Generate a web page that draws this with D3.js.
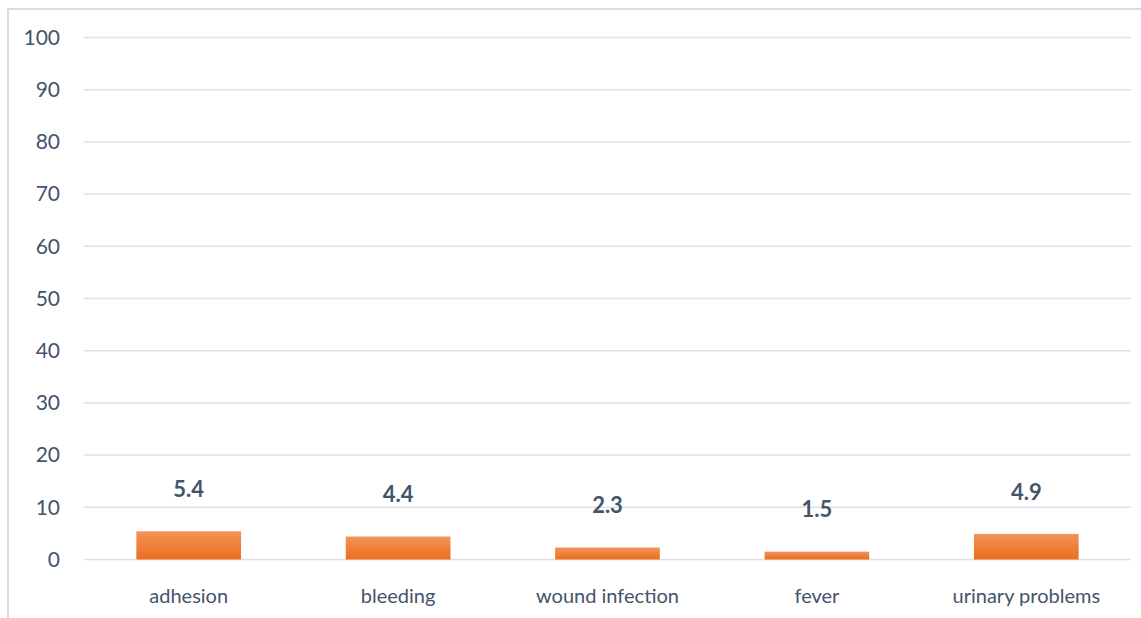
<!DOCTYPE html>
<html>
<head>
<meta charset="utf-8">
<script src="https://cdn.jsdelivr.net/npm/d3@7"></script>
<style>
  html, body { margin: 0; padding: 0; background: #fff; }
  svg, svg text { font-family: Lato, "Noto Sans", sans-serif; }
  svg { display: block; }
</style>
</head>
<body>
<div id="chart"></div>
<script>
// complications, percent
var categories = ['adhesion', 'bleeding', 'wound infection', 'fever', 'urinary problems'];
var values = [5.4, 4.4, 2.3, 1.5, 4.9];
var yTicks = [0, 10, 20, 30, 40, 50, 60, 70, 80, 90, 100];

var fullWidth = 1141;
var fullHeight = 618;
var margin = {top: 37.5, right: 10, bottom: 58.5, left: 84};
var width = 1131 - margin.left;
var height = 559.5 - margin.top;
var textColor = '#44546A';

var svg = d3.select('#chart').append('svg')
  .attr('width', fullWidth)
  .attr('height', fullHeight);

// chart frame (only left and top edges are in view)
svg.append('rect')
  .attr('x', 8).attr('y', 9)
  .attr('width', fullWidth + 20).attr('height', fullHeight + 20)
  .attr('fill', 'none')
  .attr('stroke', '#D9DDE3')
  .attr('stroke-width', 2);

var defs = svg.append('defs');
var grad = defs.append('linearGradient')
  .attr('id', 'barFill')
  .attr('x1', 0).attr('y1', 0).attr('x2', 0).attr('y2', 1);
grad.append('stop').attr('offset', '0%').attr('stop-color', '#F39358');
grad.append('stop').attr('offset', '100%').attr('stop-color', '#EB6E1E');

var g = svg.append('g')
  .attr('transform', 'translate(' + margin.left + ',' + margin.top + ')');

var x = d3.scaleBand().domain(categories).range([0, width]).paddingInner(0).paddingOuter(0);
var y = d3.scaleLinear().domain([0, 100]).range([height, 0]);

// gridlines
g.append('g').classed('grid', true)
  .selectAll('line')
  .data(yTicks)
  .enter()
  .append('line')
  .attr('x1', 0)
  .attr('x2', width)
  .attr('y1', function(d) { return y(d); })
  .attr('y2', function(d) { return y(d); })
  .attr('stroke', '#DDE1E7')
  .attr('stroke-width', 1.5);

// y axis labels
var yAxis = d3.axisLeft(y).tickValues(yTicks).tickSize(0).tickPadding(24);
var yG = g.append('g').classed('y axis', true).call(yAxis).attr('font-family', null);
yG.select('.domain').remove();
yG.selectAll('text')
  .attr('fill', textColor)
  .style('font-size', '21px');

// x axis labels
var xAxis = d3.axisBottom(x).tickSize(0).tickPadding(29);
var xG = g.append('g').classed('x axis', true)
  .attr('transform', 'translate(0,' + height + ')')
  .call(xAxis)
  .attr('font-family', null);
xG.select('.domain').remove();
xG.selectAll('text')
  .attr('fill', textColor)
  .style('font-size', '20px');

// bars
var barWidth = x.bandwidth() * 0.5;
g.append('g').classed('bar-holder', true)
  .selectAll('rect.bar')
  .data(values)
  .enter()
  .append('rect')
  .classed('bar', true)
  .attr('x', function(d, i) { return x(categories[i]) + (x.bandwidth() - barWidth) / 2; })
  .attr('y', function(d) { return y(d); })
  .attr('width', barWidth)
  .attr('height', function(d) { return height - y(d); })
  .attr('fill', 'url(#barFill)');

// value labels
g.append('g').classed('labels', true)
  .selectAll('text')
  .data(values)
  .enter()
  .append('text')
  .attr('x', function(d, i) { return x(categories[i]) + x.bandwidth() / 2; })
  .attr('y', function(d) { return y(d) - 42; })
  .attr('dy', '0.35em')
  .attr('text-anchor', 'middle')
  .attr('fill', textColor)
  .style('font-size', '22px')
  .style('font-weight', 'bold')
  .text(function(d) { return d.toFixed(1); });
</script>
</body>
</html>
